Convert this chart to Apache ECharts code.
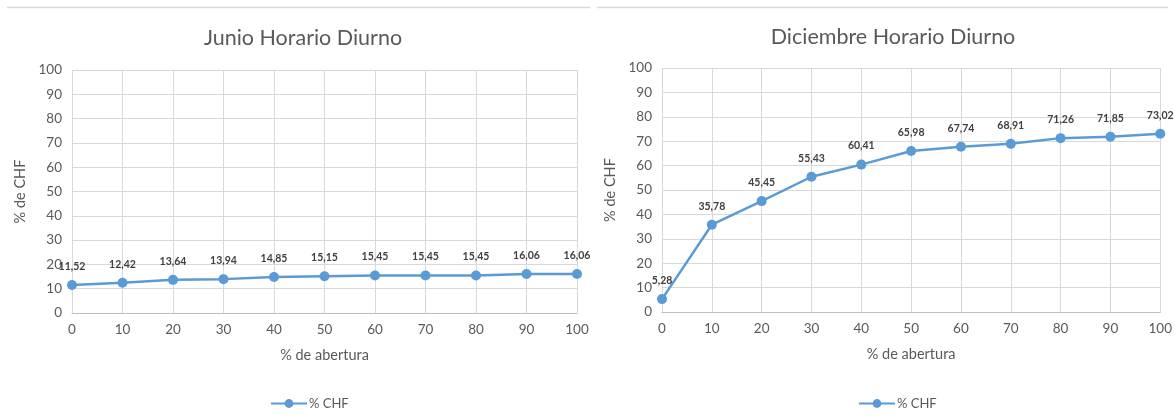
<!DOCTYPE html>
<html>
<head>
<meta charset="utf-8">
<script src="https://cdn.jsdelivr.net/npm/echarts@6/dist/echarts.min.js"></script>
<style>
  html, body { margin: 0; padding: 0; background: #fff; }
  #chart { width: 1175px; height: 419px; }
</style>
</head>
<body>
<div id="chart"></div>
<script>
// Opening percentage (x) and % CHF for each period
const apertura = ['0', '10', '20', '30', '40', '50', '60', '70', '80', '90', '100'];
const junio = [11.52, 12.42, 13.64, 13.94, 14.85, 15.15, 15.45, 15.45, 15.45, 16.06, 16.06];
const diciembre = [5.28, 35.78, 45.45, 55.43, 60.41, 65.98, 67.74, 68.91, 71.26, 71.85, 73.02];
const titulos = ['Junio Horario Diurno', 'Diciembre Horario Diurno'];
const serieNombre = '% CHF';

const FONT = 'Lato, "Open Sans", sans-serif';
const BLUE = '#5b9bd5';
const GRID = '#d9d9d9';
const TEXT = '#595959';

const chart = echarts.init(document.getElementById('chart'), null, { renderer: 'canvas' });

const fmt = p => p.value.toFixed(2).replace('.', ',');

function xAxis(idx) {
  return {
    type: 'category', gridIndex: idx, data: apertura, boundaryGap: false,
    name: '% de abertura', nameLocation: 'middle', nameGap: 35,
    nameTextStyle: { color: TEXT, fontSize: 14.5, fontFamily: FONT },
    axisLine: { lineStyle: { color: '#bfbfbf', width: 1 } },
    axisTick: { show: false },
    axisLabel: { color: TEXT, fontSize: 13.5, fontFamily: FONT, margin: 10 },
    splitLine: { show: true, lineStyle: { color: GRID, width: 1 } }
  };
}
function yAxis(idx) {
  return {
    type: 'value', gridIndex: idx, min: 0, max: 100, interval: 10,
    name: '% de CHF', nameLocation: 'middle', nameGap: 44, nameRotate: 90,
    nameTextStyle: { color: TEXT, fontSize: 14.5, fontFamily: FONT },
    axisLine: { show: false }, axisTick: { show: false },
    axisLabel: { color: TEXT, fontSize: 13.5, fontFamily: FONT, margin: 10 },
    splitLine: { lineStyle: { color: GRID, width: 1 } }
  };
}
function serie(idx, data) {
  return {
    name: serieNombre, type: 'line', xAxisIndex: idx, yAxisIndex: idx, data: data,
    symbol: 'circle', symbolSize: 10,
    lineStyle: { color: BLUE, width: 2.5 },
    itemStyle: { color: BLUE },
    label: {
      show: true, position: 'top', distance: 8, formatter: fmt,
      color: '#404040', fontSize: 10.5, fontWeight: 'bold', fontFamily: FONT
    },
    animation: false
  };
}
function legend(idx, left) {
  return {
    left: left, top: 392, itemWidth: 36, itemHeight: 11, itemGap: 2,
    data: [serieNombre],
    textStyle: { color: TEXT, fontSize: 13, fontFamily: FONT, padding: [0, 0, 0, -3] }
  };
}

chart.setOption({
  animation: false,
  title: [
    { text: titulos[0], left: 298, top: 22, textAlign: 'center',
      textStyle: { color: TEXT, fontSize: 21.5, fontWeight: 'normal', fontFamily: FONT } },
    { text: titulos[1], left: 888, top: 21, textAlign: 'center',
      textStyle: { color: TEXT, fontSize: 21.5, fontWeight: 'normal', fontFamily: FONT } }
  ],
  legend: [legend(0, 265), legend(1, 853)],
  grid: [
    { left: 72, right: 598, top: 70, bottom: 106 },
    { left: 662, right: 10, top: 68, bottom: 107 }
  ],
  xAxis: [xAxis(0), xAxis(1)],
  yAxis: [yAxis(0), yAxis(1)],
  series: [serie(0, junio), serie(1, diciembre)],
  graphic: [
    { type: 'line', shape: { x1: 7, y1: 7.5, x2: 590, y2: 7.5 }, style: { stroke: GRID, lineWidth: 1.5 } },
    { type: 'line', shape: { x1: 597, y1: 7.5, x2: 1168, y2: 7.5 }, style: { stroke: GRID, lineWidth: 1.5 } }
  ]
});
</script>
</body>
</html>
